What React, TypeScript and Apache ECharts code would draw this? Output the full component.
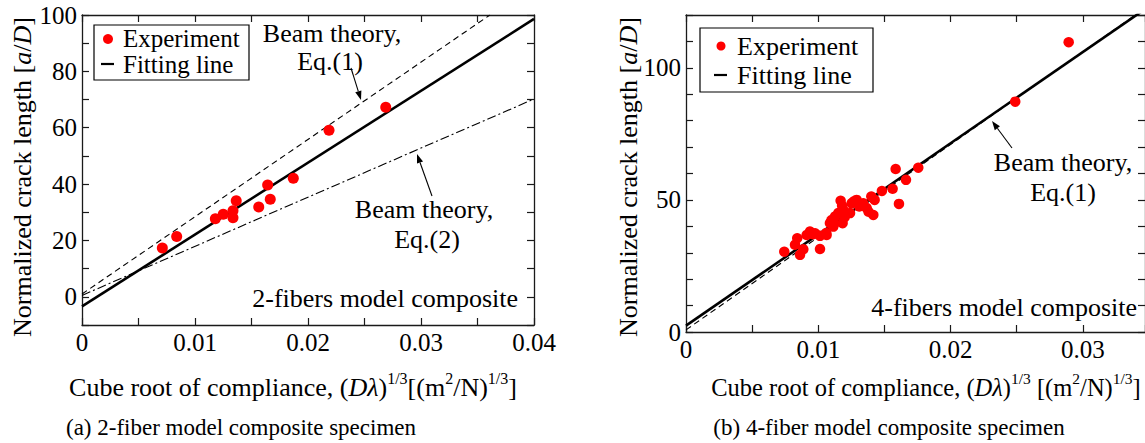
import React, { useEffect, useRef } from "react";
import * as echarts from "echarts";

const FONT = '"Liberation Serif", "Times New Roman", Times, serif';

// ---------- (a) 2-fiber model composite ----------
const expA: number[][] = [
  [0.00711, 17.3],
  [0.00838, 21.4],
  [0.0118, 27.7],
  [0.0125, 29.3],
  [0.01336, 30.5],
  [0.01336, 28.1],
  [0.01365, 34.1],
  [0.01564, 31.9],
  [0.01643, 39.7],
  [0.01666, 34.6],
  [0.0187, 42.1],
  [0.02186, 59.1],
  [0.02688, 67.3],
];
const fitA: number[][] = [
  [0, -3.4],
  [0.04, 98.6],
];
const eq1A: number[][] = [
  [0, 1.0],
  [0.0361, 100],
];
const eq2A: number[][] = [
  [0, 0.5],
  [0.04, 70.2],
];
const xLabelsA = [0, 0.01, 0.02, 0.03, 0.04];
const yLabelsA = [0, 20, 40, 60, 80, 100];

// ---------- (b) 4-fiber model composite ----------
const expB: number[][] = [
  [0.00743, 30.4],
  [0.00824, 33.0],
  [0.00841, 35.5],
  [0.00862, 29.2],
  [0.00887, 31.3],
  [0.00912, 36.7],
  [0.00937, 38.0],
  [0.0096, 37.0],
  [0.00975, 37.4],
  [0.01013, 36.4],
  [0.01013, 31.4],
  [0.0106, 37.5],
  [0.01063, 36.7],
  [0.01088, 41.2],
  [0.01101, 42.4],
  [0.0112, 41.0],
  [0.01114, 39.9],
  [0.01126, 43.7],
  [0.01151, 45.0],
  [0.01169, 49.7],
  [0.0118, 47.8],
  [0.01184, 41.2],
  [0.01189, 46.2],
  [0.012, 43.5],
  [0.0124, 45.0],
  [0.01252, 48.7],
  [0.0127, 49.5],
  [0.0129, 50.0],
  [0.0131, 47.5],
  [0.0134, 48.7],
  [0.01366, 46.9],
  [0.0138, 45.5],
  [0.01401, 51.3],
  [0.01416, 44.3],
  [0.01426, 50.0],
  [0.01481, 53.4],
  [0.01562, 54.2],
  [0.01585, 61.7],
  [0.0161, 48.5],
  [0.01663, 57.6],
  [0.01756, 62.2],
  [0.02489, 87.2],
  [0.02893, 109.7],
];
const fitB: number[][] = [
  [0, 2.4],
  [0.0347, 122.2],
];
const eq1B: number[][] = [
  [0, 0.8],
  [0.0347, 122.6],
];
const xLabelsB = [0, 0.01, 0.02, 0.03];
const yLabelsB = [0, 50, 100];

const onlyLabels = (list: number[]) => (v: number) => {
  const hit = list.find((t) => Math.abs(t - v) < 1e-9);
  return hit === undefined ? "" : String(hit);
};

const frame = "#1a1a1a";

function axis(extra: any, labels: number[] | null) {
  return {
    type: "value",
    splitLine: { show: false },
    axisLine: { show: true, onZero: false, lineStyle: { color: frame, width: 1.3 } },
    axisTick: { show: true, inside: true, length: 7, lineStyle: { color: frame, width: 1.2 } },
    axisLabel: labels
      ? {
          show: true,
          formatter: onlyLabels(labels),
          color: "#000",
          fontFamily: FONT,
          fontSize: 25,
          margin: 5,
          showMinLabel: true,
          showMaxLabel: true,
        }
      : { show: false },
    ...extra,
  };
}

function arrow(x1: number, y1: number, x2: number, y2: number) {
  const dx = x2 - x1;
  const dy = y2 - y1;
  const L = Math.hypot(dx, dy);
  const ux = dx / L;
  const uy = dy / L;
  const hl = 9;
  const hw = 3.2;
  const bx = x2 - ux * hl;
  const by = y2 - uy * hl;
  return [
    {
      type: "line",
      shape: { x1, y1, x2: bx, y2: by },
      style: { stroke: "#000", lineWidth: 1.1 },
    },
    {
      type: "polygon",
      shape: {
        points: [
          [x2, y2],
          [bx - uy * hw, by + ux * hw],
          [bx + uy * hw, by - ux * hw],
        ],
      },
      style: { fill: "#000" },
    },
  ];
}

function txt(x: number, y: number, text: string, align: string, size = 26, extra: any = {}) {
  const { style: extraStyle, ...rest } = extra;
  return {
    type: "text",
    x,
    y,
    ...rest,
    style: {
      text,
      fill: "#000",
      fontFamily: FONT,
      fontSize: size,
      align,
      verticalAlign: "middle",
      textAlign: align,
      textVerticalAlign: "middle",
      ...(extraStyle || {}),
    },
  };
}

function legend(x0: number, y0: number, w: number, h: number, dotX: number, dotY: number, textX: number, y1: number, y2: number, r: number, size: number) {
  return [
    {
      type: "rect",
      shape: { x: x0, y: y0, width: w, height: h },
      style: { fill: "#fff", stroke: "#000", lineWidth: 1.2 },
      z: 10,
    },
    { type: "circle", shape: { cx: dotX, cy: dotY, r }, style: { fill: "#ff0000" }, z: 11 },
    {
      type: "line",
      shape: { x1: dotX - 7, y1: y2, x2: dotX + 6, y2: y2 },
      style: { stroke: "#000", lineWidth: 2.2 },
      z: 11,
    },
    { ...txt(textX, y1, "Experiment", "left", size), z: 11 },
    { ...txt(textX, y2, "Fitting line", "left", size), z: 11 },
  ];
}

const xTitleA = "Cube root of compliance, ({i|D\u03bb}){s|1/3}[(m{s|2}/N){s|1/3}]";
const xTitleB = "Cube root of compliance, ({i|D\u03bb}){s|1/3} [(m{s|2}/N){s|1/3}]";
const richXA = {
  i: { fontStyle: "italic", fontFamily: FONT, fontSize: 26, lineHeight: 34, verticalAlign: "middle" },
  s: { fontFamily: FONT, fontSize: 16, lineHeight: 34, verticalAlign: "top" },
};
const richXB = {
  i: { fontStyle: "italic", fontFamily: FONT, fontSize: 24.5, lineHeight: 33, verticalAlign: "middle" },
  s: { fontFamily: FONT, fontSize: 15.5, lineHeight: 33, verticalAlign: "top" },
};
const yTitle = "Normalized crack length [{i|a}/{i|D}]";
const richY = {
  i: { fontStyle: "italic", fontFamily: FONT, fontSize: 26 },
};

export default function App() {
  const ref = useRef<HTMLDivElement>(null);
  useEffect(() => {
    if (!ref.current) return;
    const chart = echarts.init(ref.current, null, { renderer: "svg" });
    const lineBase = { type: "line", showSymbol: false, symbol: "none", silent: true, clip: true };
    chart.setOption({
      animation: false,
      backgroundColor: "#fff",
      grid: [
        { left: 82, top: 15, width: 452, height: 310, containLabel: false, outerBoundsMode: "none" },
        { left: 686, top: 15, width: 459, height: 317, containLabel: false, outerBoundsMode: "none" },
      ],
      xAxis: [
        axis({ gridIndex: 0, min: 0, max: 0.04, interval: 0.005, position: "bottom" }, xLabelsA),
        axis({ gridIndex: 0, min: 0, max: 0.04, interval: 0.005, position: "top" }, null),
        axis({ gridIndex: 1, min: 0, max: 0.0347, interval: 0.005, position: "bottom" }, xLabelsB),
        axis({ gridIndex: 1, min: 0, max: 0.0347, interval: 0.005, position: "top" }, null),
      ],
      yAxis: [
        axis({ gridIndex: 0, min: -10, max: 100, interval: 10, position: "left" }, yLabelsA),
        axis({ gridIndex: 0, min: -10, max: 100, interval: 10, position: "right" }, null),
        axis({ gridIndex: 1, min: 0, max: 120, interval: 10, position: "left" }, yLabelsB),
        axis({ gridIndex: 1, min: 0, max: 120, interval: 10, position: "right" }, null),
      ],
      series: [
        { ...lineBase, name: "Beam theory Eq.(1) a", xAxisIndex: 0, yAxisIndex: 0, data: eq1A, lineStyle: { color: "#000", width: 1.1, type: [6, 4] } },
        { ...lineBase, name: "Beam theory Eq.(2) a", xAxisIndex: 0, yAxisIndex: 0, data: eq2A, lineStyle: { color: "#000", width: 1.1, type: [9, 3, 2, 3] } },
        { ...lineBase, name: "Fitting line a", xAxisIndex: 0, yAxisIndex: 0, data: fitA, lineStyle: { color: "#000", width: 2.6 } },
        { type: "scatter", name: "Experiment a", xAxisIndex: 0, yAxisIndex: 0, data: expA, symbolSize: 11, itemStyle: { color: "#ff0000", opacity: 1 }, z: 5 },
        { ...lineBase, name: "Beam theory Eq.(1) b", xAxisIndex: 2, yAxisIndex: 2, data: eq1B, lineStyle: { color: "#000", width: 1.1, type: [6, 4] } },
        { ...lineBase, name: "Fitting line b", xAxisIndex: 2, yAxisIndex: 2, data: fitB, lineStyle: { color: "#000", width: 2.6 } },
        { type: "scatter", name: "Experiment b", xAxisIndex: 2, yAxisIndex: 2, data: expB, symbolSize: 10.5, itemStyle: { color: "#ff0000", opacity: 1 }, z: 5 },
      ],
      graphic: [
        // left annotations
        txt(332, 33, "Beam theory,", "center"),
        txt(330, 61, "Eq.(1)", "center"),
        ...arrow(351, 68, 361, 100),
        txt(424, 209, "Beam theory,", "center"),
        txt(427, 239, "Eq.(2)", "center"),
        ...arrow(432, 196, 417, 154),
        txt(518, 298, "2-fibers model composite", "right"),
        ...legend(94, 25, 155, 55, 108, 39, 123, 38, 64, 5, 25),
        // right annotations
        txt(1063, 162, "Beam theory,", "center"),
        txt(1063, 192, "Eq.(1)", "center"),
        ...arrow(1012, 148, 992, 121),
        txt(1137, 307, "4-fibers model composite", "right"),
        ...legend(700, 28, 173, 64, 721, 46, 737, 46, 75, 4.5, 26),
        // axis titles
        txt(293, 387, xTitleA, "center", 26, { style: { rich: richXA } }),
        txt(926, 387, xTitleB, "center", 24.5, { style: { rich: richXB } }),
        txt(22, 177, yTitle, "center", 26, { rotation: Math.PI / 2, style: { rich: richY } }),
        txt(628, 177, yTitle, "center", 26, { rotation: Math.PI / 2, style: { rich: richY } }),
        // captions
        txt(241, 427, "(a) 2-fiber model composite specimen", "center", 23),
        txt(889, 427, "(b) 4-fiber model composite specimen", "center", 23),
      ],
    });
    return () => chart.dispose();
  }, []);
  return (
    <div
      ref={ref}
      style={{ position: "fixed", left: 0, top: 0, width: 1145, height: 443, background: "#fff" }}
    />
  );
}
